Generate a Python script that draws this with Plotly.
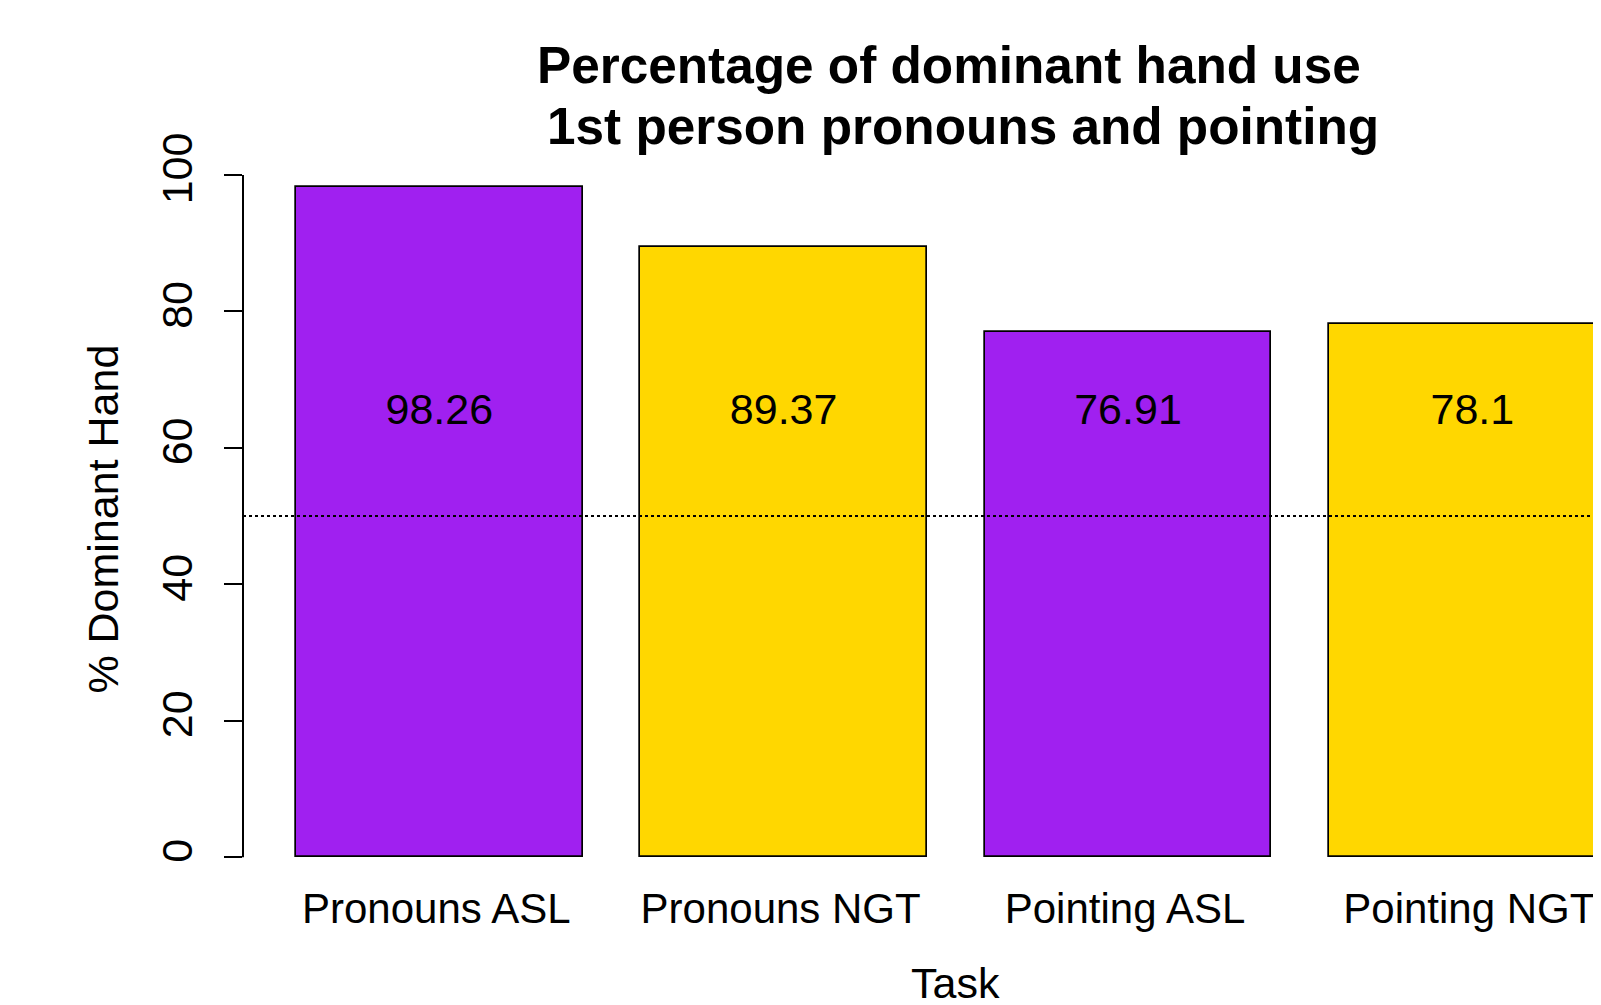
import plotly.graph_objects as go

categories = ["Pronouns ASL", "Pronouns NGT", "Pointing ASL", "Pointing NGT"]
values = [98.26, 89.37, 76.91, 78.1]
value_labels = ["98.26", "89.37", "76.91", "78.1"]
bar_colors = ["#A020F0", "#FFD700", "#A020F0", "#FFD700"]
y_ticks = [0, 20, 40, 60, 80, 100]
label_height = 65
reference_line = 50

# the page body has an 8px margin, so the figure is 8px smaller than the window
W, H = 1593, 997
L, R, T, B = 235.3, 0, 151.6, 120.5
FONT = "Liberation Sans, Arial, Helvetica, sans-serif"
FS = 43
FS_XTICK = 42
FS_TITLE = 51.3

centers = [0.7 + 1.2 * i for i in range(len(categories))]
px_per_unit = 286.9
x_range = [0.016, 0.016 + (W - L - R) / px_per_unit]

def px_x(p):
    return (p - L) / (W - L - R)

def px_y(p):
    return (H - B - p) / (H - T - B)

fig = go.Figure()
fig.add_trace(go.Bar(
    x=centers, y=values, width=1.0,
    marker=dict(color=bar_colors, line=dict(color="black", width=1.7)),
    showlegend=False, hoverinfo="skip",
))
fig.add_trace(go.Scatter(
    x=centers, y=[label_height] * len(values), mode="text",
    text=value_labels, textposition="middle center",
    textfont=dict(size=FS, color="black", family=FONT),
    showlegend=False, hoverinfo="skip",
))

fig.add_shape(type="line", xref="paper", yref="y", x0=0, x1=1,
              y0=reference_line, y1=reference_line,
              line=dict(color="black", width=2, dash="3px,3px"), layer="above")
fig.add_shape(type="line", xref="paper", yref="y", x0=0, x1=0,
              y0=min(y_ticks), y1=max(y_ticks),
              line=dict(color="black", width=2))

fig.add_annotation(text="<b>Percentage of dominant hand use</b>", xref="paper", yref="paper",
                   x=px_x(941.6), y=px_y(57), showarrow=False, xanchor="center", yanchor="middle",
                   font=dict(size=FS_TITLE, color="black", family=FONT))
fig.add_annotation(text="<b>1st person pronouns and pointing</b>", xref="paper", yref="paper",
                   x=px_x(955.6), y=px_y(118), showarrow=False, xanchor="center", yanchor="middle",
                   font=dict(size=FS_TITLE, color="black", family=FONT))
fig.add_annotation(text="Task", xref="paper", yref="paper",
                   x=px_x(948), y=px_y(976), showarrow=False, xanchor="center", yanchor="middle",
                   height=34, borderpad=0,
                   font=dict(size=FS, color="black", family=FONT))
fig.add_annotation(text="% Dominant Hand", xref="paper", yref="paper",
                   x=px_x(95), y=px_y(511), showarrow=False, xanchor="center", yanchor="middle",
                   textangle=-90, font=dict(size=FS, color="black", family=FONT))

fig.update_layout(
    width=W, height=H,
    margin=dict(l=L, r=R, t=T, b=B, pad=0, autoexpand=False),
    paper_bgcolor="white", plot_bgcolor="white",
    font=dict(family=FONT, color="black", size=FS),
    xaxis=dict(range=x_range, tickvals=centers, ticktext=categories,
               showgrid=False, zeroline=False, showline=False, ticks="",
               tickfont=dict(size=FS_XTICK), ticklabelstandoff=-4, ticklabelshift=-3,
               ticklabeloverflow="allow", automargin=False),
    yaxis=dict(range=[-3.93, 102.19], tickvals=y_ticks, ticktext=[str(v) for v in y_ticks],
               showgrid=False, zeroline=False, showline=False,
               ticks="outside", ticklen=18, tickwidth=2, tickcolor="black",
               tickangle=-90, tickfont=dict(size=FS), ticklabelstandoff=15, automargin=False),
    bargap=0,
)

fig.write_html("out.html")
